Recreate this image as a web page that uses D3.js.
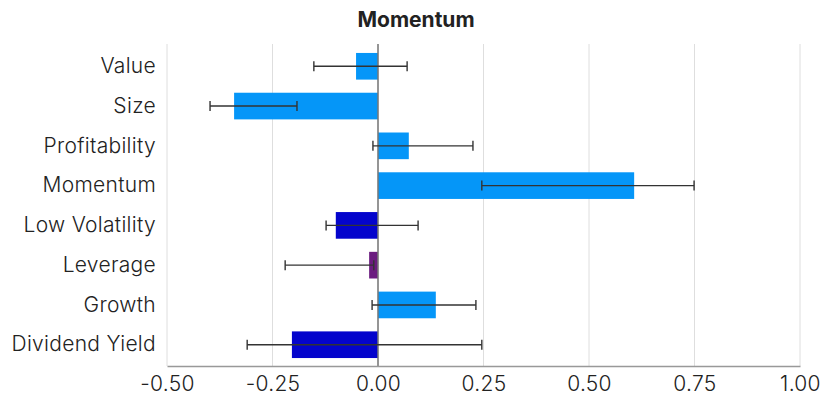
<!DOCTYPE html>
<html>
<head>
<meta charset="utf-8">
<script src="https://cdn.jsdelivr.net/npm/d3@7"></script>
<style>
  body { margin: 0; background: #fff; }
  text { font-family: Inter, "Open Sans", sans-serif; }
</style>
</head>
<body>
<script>
var w = 839,
    h = 396;

// data
var factors = ["Value", "Size", "Profitability", "Momentum", "Low Volatility", "Leverage", "Growth", "Dividend Yield"];
var values  = [-0.052, -0.341, 0.073, 0.607, -0.100, -0.021, 0.137, -0.204];
var errLow  = [-0.152, -0.398, -0.012, 0.246, -0.123, -0.220, -0.014, -0.310];
var errHigh = [0.069, -0.192, 0.225, 0.749, 0.095, -0.010, 0.232, 0.246];
var colors  = ["#0596f8", "#0596f8", "#0596f8", "#0596f8", "#0404cc", "#6b1c7f", "#0596f8", "#0404cc"];
var ticks   = [-0.5, -0.25, 0, 0.25, 0.5, 0.75, 1.0];

var rows = factors.map(function(f, i) {
  return { name: f, v: values[i], lo: errLow[i], hi: errHigh[i], c: colors[i] };
});

var svg = d3.select("body").append("svg")
    .attr("width", w)
    .attr("height", h);

var x = d3.scaleLinear().domain([-0.5, 1.0]).range([167, 800]);
var y = d3.scaleBand().domain(factors).range([45, 366]).paddingInner(0.33).paddingOuter(0.2);

// title
svg.append("text")
    .attr("x", 416).attr("y", 27)
    .attr("text-anchor", "middle")
    .style("font-size", "21px")
    .style("font-weight", "bold")
    .style("fill", "#222")
    .text("Momentum");

// gridlines
svg.append("g").selectAll("line").data(ticks).enter().append("line")
    .attr("x1", function(d) { return x(d); })
    .attr("x2", function(d) { return x(d); })
    .attr("y1", 44).attr("y2", 366)
    .style("stroke", "#dedede")
    .style("stroke-width", "1px");

// bars
svg.append("g").selectAll("rect").data(rows).enter().append("rect")
    .attr("x", function(d) { return x(Math.min(0, d.v)); })
    .attr("width", function(d) { return Math.abs(x(d.v) - x(0)); })
    .attr("y", function(d) { return y(d.name); })
    .attr("height", y.bandwidth())
    .style("fill", function(d) { return d.c; });

// zero line
svg.append("line")
    .attr("x1", x(0)).attr("x2", x(0))
    .attr("y1", 44).attr("y2", 366)
    .style("stroke", "#777")
    .style("stroke-width", "1.5px");

// error bars
var eb = svg.append("g").selectAll("g").data(rows).enter().append("g")
    .attr("transform", function(d) { return "translate(0," + (y(d.name) + y.bandwidth() / 2) + ")"; })
    .style("stroke", "#333")
    .style("stroke-width", "1.4px");
eb.append("line")
    .attr("x1", function(d) { return x(d.lo); })
    .attr("x2", function(d) { return x(d.hi); });
eb.append("line")
    .attr("x1", function(d) { return x(d.lo); })
    .attr("x2", function(d) { return x(d.lo); })
    .attr("y1", -5).attr("y2", 5);
eb.append("line")
    .attr("x1", function(d) { return x(d.hi); })
    .attr("x2", function(d) { return x(d.hi); })
    .attr("y1", -5).attr("y2", 5);

// x axis
var xAxis = svg.append("g")
    .attr("transform", "translate(0,366)")
    .call(d3.axisBottom(x).tickValues(ticks).tickFormat(d3.format(".2f")).tickSize(0).tickPadding(10));
xAxis.select(".domain").style("stroke", "#999").style("stroke-width", "1.5px");
xAxis.selectAll("text")
    .style("font-size", "21px")
    .style("font-weight", "300")
    .style("letter-spacing", "0.3px")
    .style("fill", "#222")
    .style("font-family", "Inter, 'Open Sans', sans-serif")
    .text(function(d) { return d3.format(".2f")(d).replace("−", "-"); });

// y axis labels
var yAxis = svg.append("g")
    .attr("transform", "translate(167,0)")
    .call(d3.axisLeft(y).tickSize(0).tickPadding(11));
yAxis.select(".domain").remove();
yAxis.selectAll("text")
    .style("font-size", "21px")
    .style("font-weight", "300")
    .style("letter-spacing", "0.3px")
    .style("fill", "#222")
    .style("font-family", "Inter, 'Open Sans', sans-serif");
</script>
</body>
</html>
